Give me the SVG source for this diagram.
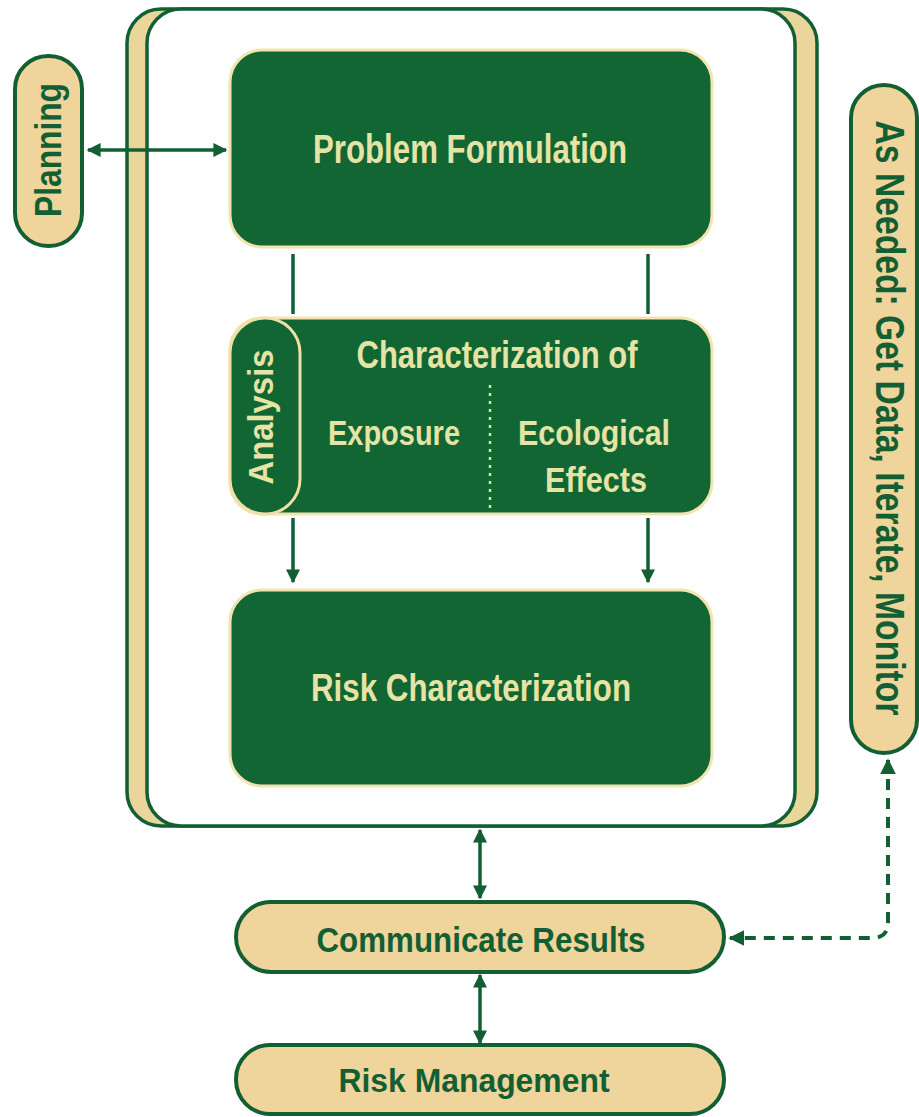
<svg xmlns="http://www.w3.org/2000/svg" width="919" height="1117" viewBox="0 0 919 1117">
<defs>
<style>
.bg{fill:#ffffff}
.frame-tan{fill:#ead59a;stroke:#135f34;stroke-width:3.5}
.frame-white{fill:#ffffff;stroke:#135f34;stroke-width:3.5}
.gbox{fill:#116633;stroke:#f3e3b0;stroke-width:3}
.pill{fill:#efd49b;stroke:#135f34;stroke-width:4}
.apill{fill:#116633;stroke:#f0dfa8;stroke-width:3}
.gt{font-family:"Liberation Sans Narrow","Liberation Sans",sans-serif;font-weight:bold;fill:#e6e3a6;text-anchor:middle}
.tt{font-family:"Liberation Sans Narrow","Liberation Sans",sans-serif;font-weight:bold;fill:#135f34;text-anchor:middle}
.conn{stroke:#135f34;stroke-width:3.5;fill:none}
.dash{stroke:#135f34;stroke-width:4;fill:none;stroke-dasharray:11 8}
.dot{stroke:#e6e3a6;stroke-width:2.5;stroke-dasharray:3 5;fill:none}
</style>
<marker id="ah" viewBox="0 0 10 10" refX="9" refY="5" markerWidth="4" markerHeight="4" orient="auto-start-reverse" markerUnits="strokeWidth">
<path d="M0,0 L10,5 L0,10 Z" fill="#135f34"/>
</marker>
</defs>
<rect class="bg" x="0" y="0" width="919" height="1117"/>

<g id="frame">
<rect class="frame-tan" x="127" y="9" width="690" height="817" rx="34"/>
<rect class="frame-white" x="147" y="9" width="648" height="817" rx="34"/>
</g>

<g id="connectors">
<line class="conn" x1="88" y1="150" x2="226" y2="150" marker-start="url(#ah)" marker-end="url(#ah)"/>
<line class="conn" x1="293" y1="254" x2="293" y2="314"/>
<line class="conn" x1="648" y1="254" x2="648" y2="314"/>
<line class="conn" x1="293" y1="518" x2="293" y2="582" marker-end="url(#ah)"/>
<line class="conn" x1="648" y1="518" x2="648" y2="582" marker-end="url(#ah)"/>
<line class="conn" x1="480" y1="830" x2="480" y2="898" marker-start="url(#ah)" marker-end="url(#ah)"/>
<line class="conn" x1="480" y1="975" x2="480" y2="1043" marker-start="url(#ah)" marker-end="url(#ah)"/>
<path class="dash" d="M888,760 L888,922 Q888,938 872,938 L730,938" marker-start="url(#ah)" marker-end="url(#ah)"/>
</g>

<g id="planning">
<rect class="pill" x="15" y="56" width="67" height="190" rx="33"/>
<text class="tt" transform="translate(61,150) rotate(-90)" font-size="36" textLength="134" lengthAdjust="spacingAndGlyphs">Planning</text>
</g>

<g id="as-needed">
<rect class="pill" x="851" y="85" width="66" height="668" rx="33"/>
<text class="tt" transform="translate(876,418) rotate(90)" font-size="40" textLength="595" lengthAdjust="spacingAndGlyphs">As Needed: Get Data, Iterate, Monitor</text>
</g>

<g id="problem-formulation">
<rect class="gbox" x="230" y="50" width="482" height="197" rx="32"/>
<text class="gt" x="470" y="163" font-size="40" textLength="314" lengthAdjust="spacingAndGlyphs">Problem Formulation</text>
</g>

<g id="analysis">
<rect class="gbox" x="230" y="318" width="482" height="196" rx="32"/>
<rect class="apill" x="230" y="318" width="70" height="196" rx="35"/>
<text class="gt" transform="translate(273,417) rotate(-90)" font-size="35" textLength="135" lengthAdjust="spacingAndGlyphs">Analysis</text>
<text class="gt" x="497" y="368" font-size="38" textLength="281" lengthAdjust="spacingAndGlyphs">Characterization of</text>
<text class="gt" x="394" y="445" font-size="35" textLength="132" lengthAdjust="spacingAndGlyphs">Exposure</text>
<text class="gt" x="594" y="445" font-size="35" textLength="152" lengthAdjust="spacingAndGlyphs">Ecological</text>
<text class="gt" x="596" y="492" font-size="35" textLength="102" lengthAdjust="spacingAndGlyphs">Effects</text>
<line class="dot" x1="490" y1="385" x2="490" y2="510"/>
</g>

<g id="risk-characterization">
<rect class="gbox" x="230" y="590" width="482" height="196" rx="32"/>
<text class="gt" x="471" y="701" font-size="38" textLength="320" lengthAdjust="spacingAndGlyphs">Risk Characterization</text>
</g>

<g id="communicate-results">
<rect class="pill" x="236" y="902" width="488" height="70" rx="35"/>
<text class="tt" x="481" y="952" font-size="35" textLength="329" lengthAdjust="spacingAndGlyphs">Communicate Results</text>
</g>

<g id="risk-management">
<rect class="pill" x="236" y="1045" width="488" height="69" rx="34"/>
<text class="tt" x="474" y="1092" font-size="34" textLength="271" lengthAdjust="spacingAndGlyphs">Risk Management</text>
</g>
</svg>
